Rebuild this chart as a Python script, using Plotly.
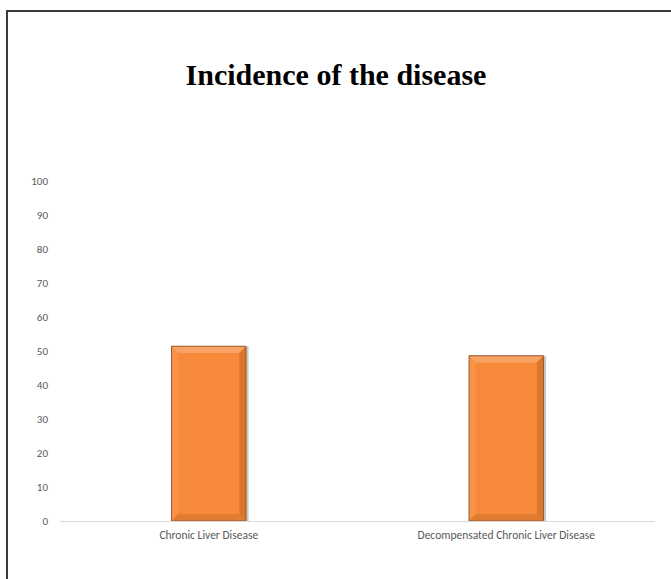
import plotly.graph_objects as go

# Incidence by diagnosis (percent)
categories = ["Chronic Liver Disease", "Decompensated Chronic Liver Disease"]
incidence = [51.4, 48.6]
y_ticks = [0, 10, 20, 30, 40, 50, 60, 70, 80, 90, 100]

W, H = 671, 579
ML, MR, MT, MB = 60, 16, 181, 58
PW, PH = W - ML - MR, H - MT - MB


def px_to_paper_x(px):
    return (px - ML) / PW


def px_to_paper_y(py):
    return (H - MB - py) / PH


fig = go.Figure()

# soft drop shadow behind each bar
fig.add_trace(go.Bar(
    x=categories, y=incidence, width=0.258, offset=-0.124,
    marker=dict(color="rgba(110,90,80,0.35)", line=dict(width=0)),
    hoverinfo="skip", showlegend=False,
))
# main bevelled bar
fig.add_trace(go.Bar(
    x=categories, y=incidence, width=0.25, offset=-0.125,
    marker=dict(color="#F6893A", line=dict(width=0)),
    showlegend=False,
))

# bevel facets: light top, soft left, darker right and bottom edges
shapes = []
for i, v in enumerate(incidence):
    x0, x1 = i - 0.125, i + 0.125
    bev = 0.022
    ybev = 2.0
    shapes.append(dict(type="path", xref="x", yref="y", layer="above",
                       path=f"M {x0} {v} L {x1} {v} L {x1 - bev} {v - ybev} L {x0 + bev} {v - ybev} Z",
                       fillcolor="#F9A264", line=dict(width=0)))
    shapes.append(dict(type="path", xref="x", yref="y", layer="above",
                       path=f"M {x0} {v} L {x0 + bev} {v - ybev} L {x0 + bev} {ybev} L {x0} 0 Z",
                       fillcolor="#F7944A", line=dict(width=0)))
    shapes.append(dict(type="path", xref="x", yref="y", layer="above",
                       path=f"M {x1} {v} L {x1 - bev} {v - ybev} L {x1 - bev} {ybev} L {x1} 0 Z",
                       fillcolor="#DC762F", line=dict(width=0)))
    shapes.append(dict(type="path", xref="x", yref="y", layer="above",
                       path=f"M {x0} 0 L {x0 + bev} {ybev} L {x1 - bev} {ybev} L {x1} 0 Z",
                       fillcolor="#E07B32", line=dict(width=0)))
    shapes.append(dict(type="rect", xref="x", yref="y", layer="above",
                       x0=x0, x1=x1, y0=0, y1=v,
                       fillcolor="rgba(0,0,0,0)", line=dict(color="#9A5A2C", width=1)))

# outer frame (left and top edges)
shapes.append(dict(type="line", xref="paper", yref="paper",
                   x0=px_to_paper_x(7), x1=px_to_paper_x(7),
                   y0=px_to_paper_y(10), y1=px_to_paper_y(H + 5),
                   line=dict(color="#3A3A3A", width=2)))
shapes.append(dict(type="line", xref="paper", yref="paper",
                   x0=px_to_paper_x(6), x1=px_to_paper_x(W + 5),
                   y0=px_to_paper_y(11), y1=px_to_paper_y(11),
                   line=dict(color="#3A3A3A", width=2)))

fig.update_layout(
    width=W, height=H,
    margin=dict(l=ML, r=MR, t=MT, b=MB),
    paper_bgcolor="white", plot_bgcolor="white",
    barmode="overlay",
    bargap=0.5,
    title=dict(text="<b>Incidence of the disease</b>",
               font=dict(family="Liberation Serif, Times New Roman, serif", size=30, color="black"),
               x=336 / W, xref="container", xanchor="center",
               y=1 - 74 / H, yref="container", yanchor="middle"),
    shapes=shapes,
)
fig.update_xaxes(
    showline=True, linecolor="#D9D9D9", linewidth=1,
    showgrid=False, zeroline=False, ticks="", ticklabelstandoff=3,
    tickfont=dict(family="Carlito, Lato, Open Sans, sans-serif", size=11.5, color="#595959"),
    range=[-0.5, 1.5],
)
fig.update_yaxes(
    range=[0, 100], tickvals=y_ticks, showgrid=False, zeroline=False,
    showline=False, ticks="", ticklabelstandoff=11,
    tickfont=dict(family="Carlito, Lato, Open Sans, sans-serif", size=11, color="#595959"),
)

fig.write_html("out.html")
